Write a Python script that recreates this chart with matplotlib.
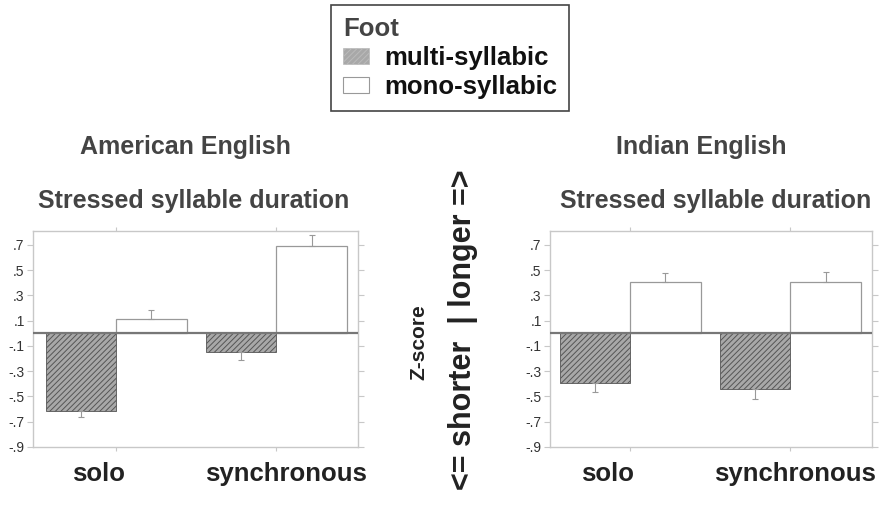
import numpy as np
import matplotlib
matplotlib.use("Agg")
import matplotlib.pyplot as plt
from matplotlib.patches import Patch

plt.rcParams['font.family'] = ['Liberation Sans', 'DejaVu Sans']
plt.rcParams['hatch.linewidth'] = 0.7

# data (z-scores, error bar length)
conditions = ['solo', 'synchronous']
american_multi = [-0.615, -0.148]
american_mono = [0.116, 0.694]
american_multi_err = [0.045, 0.065]
american_mono_err = [0.07, 0.083]
indian_multi = [-0.396, -0.443]
indian_mono = [0.404, 0.404]
indian_multi_err = [0.066, 0.077]
indian_mono_err = [0.077, 0.084]
yticks = [0.7, 0.5, 0.3, 0.1, -0.1, -0.3, -0.5, -0.7, -0.9]
ytick_labels = ['.7', '.5', '.3', '.1', '-.1', '-.3', '-.5', '-.7', '-.9']

spine_col = '#c8c8c8'
title_col = '#444444'

fig = plt.figure(figsize=(8.89, 5.12), dpi=100)


def one_sided(vals, errs):
    # error bars only point away from zero
    vals = np.asarray(vals)
    errs = np.asarray(errs)
    lower = np.where(vals < 0, errs, 0)
    upper = np.where(vals >= 0, errs, 0)
    return [lower, upper]


def draw_panel(rect, multi, multi_err, mono, mono_err, title, xlim, label_off):
    ax = fig.add_axes(rect)
    x = np.arange(len(conditions))
    w = 0.44
    ax.bar(x - w / 2, multi, w, color='#a8a8a8', edgecolor='#555555',
           hatch='//////', linewidth=0.6, zorder=2)
    ax.bar(x + w / 2, mono, w, color='white', edgecolor='#999999',
           linewidth=0.9, zorder=2)
    ax.errorbar(x - w / 2, multi, yerr=one_sided(multi, multi_err), fmt='none',
                ecolor='#999999', elinewidth=0.8, capsize=2.5, capthick=0.8, zorder=3)
    ax.errorbar(x + w / 2, mono, yerr=one_sided(mono, mono_err), fmt='none',
                ecolor='#999999', elinewidth=0.8, capsize=2.5, capthick=0.8, zorder=3)
    ax.axhline(0, color='#777777', linewidth=1.6, zorder=4)

    ax.set_xlim(*xlim)
    ax.set_ylim(-0.9, 0.81)
    ax.set_yticks(yticks)
    ax.set_yticklabels(ytick_labels)
    ax.set_xticks(x)
    ax.set_xticklabels([])
    ax.tick_params(axis='y', which='both', left=True, right=True, direction='out',
                   length=4, width=0.8, color=spine_col, labelsize=10,
                   labelcolor='#333333', pad=2)
    ax.tick_params(axis='x', which='both', top=True, bottom=True, direction='out',
                   length=3, width=0.8, color=spine_col)
    for s in ax.spines.values():
        s.set_color(spine_col)
        s.set_linewidth(1.0)

    for xi, lab, off in zip(x, conditions, label_off):
        ax.text(xi + off, -0.125, lab, transform=ax.get_xaxis_transform(),
                ha='center', va='center', fontsize=18.5, fontweight='bold',
                color='#222222')

    ax.text(0.5 + title[2], 1.0 + 84 / 216, title[0], transform=ax.transAxes,
            ha='center', va='center', fontsize=18, fontweight='bold', color=title_col)
    ax.text(0.5 + title[3], 1.0 + 30 / 216, title[1], transform=ax.transAxes,
            ha='center', va='center', fontsize=18, fontweight='bold', color=title_col)
    return ax


draw_panel([33 / 889, 1 - 447 / 512, 325 / 889, 216 / 512],
           american_multi, american_multi_err, american_mono, american_mono_err,
           ('American English', 'Stressed syllable duration', -0.03, -0.005),
           (-0.52, 1.51), (-0.11, 0.06))
draw_panel([550 / 889, 1 - 447 / 512, 322 / 889, 216 / 512],
           indian_multi, indian_multi_err, indian_mono, indian_mono_err,
           ('Indian English', 'Stressed syllable duration', -0.03, 0.015),
           (-0.5, 1.51), (-0.14, 0.03))

# centre axis labels
fig.text(419 / 889, 1 - 342 / 512, 'Z-score', rotation=90, ha='center', va='center',
         fontsize=15, fontweight='bold', color='#222222')
fig.text(463 / 889, 1 - 330 / 512, '<= shorter  | longer =>', rotation=90,
         ha='center', va='center', fontsize=22, fontweight='bold', color='#222222')

handles = [Patch(facecolor='#a8a8a8', edgecolor='#bbbbbb', hatch='//////', linewidth=0.5),
           Patch(facecolor='white', edgecolor='#999999', linewidth=0.8)]
leg = fig.legend(handles, ['multi-syllabic', 'mono-syllabic'], title='Foot',
                 loc='center', bbox_to_anchor=(450 / 889, 1 - 58 / 512),
                 prop={'size': 18.5, 'weight': 'bold'},
                 title_fontproperties={'size': 18.5, 'weight': 'bold'},
                 frameon=True, fancybox=False, framealpha=1, edgecolor='#444444',
                 handlelength=1.0, handleheight=0.6, handletextpad=0.6,
                 labelspacing=0.2, borderpad=0.45, borderaxespad=0)
leg._legend_box.align = 'left'
leg.get_title().set_color(title_col)
for t in leg.get_texts():
    t.set_color('#111111')
leg.get_frame().set_linewidth(1.2)

fig.savefig('out.png', dpi=100)
